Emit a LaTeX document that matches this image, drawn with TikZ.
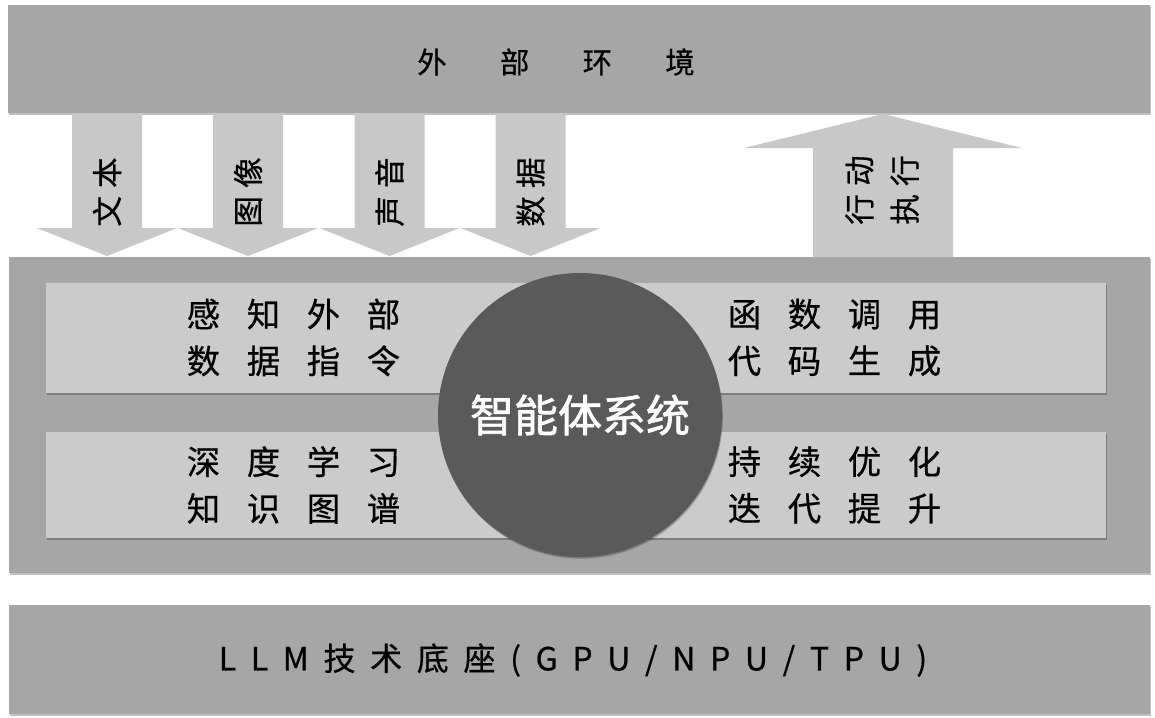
\documentclass[tikz,border=0pt]{standalone}
\usepackage{fontspec}
\setmainfont{Noto Sans CJK SC}
\newfontfamily\cjk[FakeBold=0.6]{Noto Sans CJK SC}
\newfontfamily\cjkb[FakeBold=1.5]{Noto Sans CJK SC}
\usetikzlibrary{shadows,fit}
\definecolor{barg}{HTML}{A6A6A6}
\definecolor{arrg}{HTML}{C8C8C8}
\definecolor{pang}{HTML}{CBCBCB}
\definecolor{circg}{HTML}{5A5A5A}
\newcommand{\myg}{\hspace{20pt}}
\newcommand{\myb}{\hspace{11pt}}
\begin{document}
\begin{tikzpicture}[x=0.75pt,y=-0.75pt,
  soft/.style={drop shadow={shadow xshift=0.6pt,shadow yshift=-1.2pt,opacity=0.25,fill=black}},
  bar/.style={fill=barg,draw=none,inner sep=0pt,soft},
  panel/.style={fill=pang,draw=none,inner sep=0pt,soft},
  blockarrow/.style={fill=arrg,draw=none},
  atext/.style={rotate=90,font=\cjk\fontsize{23}{34}\selectfont,inner sep=0pt,align=center},
  ptext/.style={font=\cjk\fontsize{25}{35}\selectfont,align=center,inner sep=0pt},
]
\useasboundingbox[fill=white] (0,0) rectangle (1155,717);
% bars
\node[bar,fit={(8,5) (1150,113)}] (env) {};
\node[bar,fit={(9,257) (1150,573)}] (sys) {};
\node[bar,fit={(9,605) (1150,714)}] (base) {};
% panels
\node[panel,fit={(46,283) (1106,393)}] (p1) {};
\node[panel,fit={(46,432) (1106,538)}] (p2) {};
% input arrows
\foreach \c/\t [count=\i] in {107/{文\hspace{6pt}本},248/{图\hspace{6pt}像},389.5/{声\hspace{6pt}音},530.5/{数\hspace{6pt}据}} {
  \fill[blockarrow] (\c-35,113) -- (\c+35,113) -- (\c+35,228) -- (\c+70,228)
     -- (\c,256) -- (\c-70,228) -- (\c-35,228) -- cycle;
  \node[atext] (in\i) at (\c,192) {\t};
}
% output arrow
\fill[blockarrow] (813,257) -- (953,257) -- (953,148) -- (1022,148) -- (883,114)
   -- (744,148) -- (813,148) -- cycle;
\node[atext] (out) at (882,190) {行\hspace{6pt}动\\执\hspace{6pt}行};
% texts
\node[font=\cjk\fontsize{22}{22}\selectfont,inner sep=0pt] (envtext) at (556,62)
  {外\hspace{40pt}部\hspace{40pt}环\hspace{40pt}境};
\node[ptext] (t1) at (293.5,337.5) {感\myg 知\myg 外\myg 部\\数\myg 据\myg 指\myg 令};
\node[ptext] (t2) at (293.5,485) {深\myg 度\myg 学\myg 习\\知\myg 识\myg 图\myg 谱};
\node[ptext] (t3) at (834.5,337.5) {函\myg 数\myg 调\myg 用\\代\myg 码\myg 生\myg 成};
\node[ptext] (t4) at (834.5,485) {持\myg 续\myg 优\myg 化\\迭\myg 代\myg 提\myg 升};
% circle
\node[circle,fill=circg,minimum size=213pt,inner sep=0pt,text=white,
  font=\cjkb\fontsize{33}{33}\selectfont,soft] (agent) at (580,415) {智能体系统};
% base text
\node[font=\cjk\fontsize{24}{24}\selectfont,inner sep=0pt] (basetext) at (573,660)
  {L\myb L\myb M\myb 技\myb 术\myb 底\myb 座\myb (\myb G\myb P\myb U\myb /\myb N\myb P\myb U\myb /\myb T\myb P\myb U\myb )};
\end{tikzpicture}
\end{document}
